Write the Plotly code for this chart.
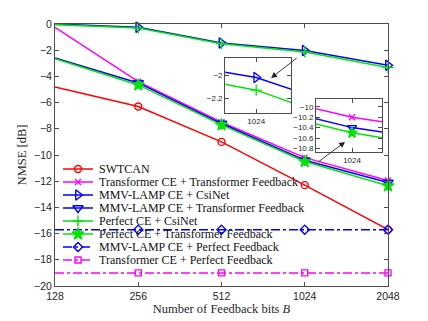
import math
import plotly.graph_objects as go

# ── Data ─────────────────────────────────────────────────────────────────────
bits = [128, 256, 512, 1024, 2048]
swtcan = [-4.8, -6.3, -9.0, -12.3, -15.7]
trans_trans = [-0.25, -4.4, -7.5, -10.2, -11.95]
lamp_csinet = [0.0, -0.25, -1.45, -2.02, -3.15]
lamp_trans = [-2.6, -4.5, -7.6, -10.4, -12.1]
perf_csinet = [-0.05, -0.3, -1.5, -2.13, -3.32]
perf_trans = [-2.65, -4.65, -7.7, -10.5, -12.35]
lamp_perf = [-15.7] * 5
trans_perf = [-19.0] * 5

y_ticks = [0, -2, -4, -6, -8, -10, -12, -14, -16, -18, -20]
inset1_ticks = [-2, -2.2]
inset2_ticks = [-10, -10.2, -10.4, -10.6, -10.8]

# ── Style ────────────────────────────────────────────────────────────────────
RED, MAG, BLUE, GREEN = "#ff0000", "#ff00ff", "#0000ff", "#00e600"
AX_CLR = "#4d4d4d"
SERIF = "Liberation Serif, Times New Roman, serif"
SANS = "Liberation Sans, Arial, sans-serif"
LW = 1.5

series = [
    ("SWTCAN", swtcan, RED, "solid", "circle-open", 7),
    ("Transformer CE + Transformer Feedback", trans_trans, MAG, "solid", "x-thin-open", 6),
    ("MMV-LAMP CE + CsiNet", lamp_csinet, BLUE, "solid", "triangle-right-open", 9),
    ("MMV-LAMP CE + Transformer Feedback", lamp_trans, BLUE, "solid", "triangle-down-open", 9),
    ("Perfect CE + CsiNet", perf_csinet, GREEN, "solid", "cross-thin-open", 8),
    ("Perfect CE + Transformer Feedback", perf_trans, GREEN, "solid", "star", 9),
    ("MMV-LAMP CE + Perfect Feedback", lamp_perf, BLUE, "dashdot", "diamond-open", 7),
    ("Transformer CE + Perfect Feedback", trans_perf, MAG, "dashdot", "square-open", 6),
]

fig = go.Figure()
for name, vals, clr, dash, sym, size in series:
    fig.add_trace(go.Scatter(
        x=bits, y=vals, name=name, mode="lines+markers", showlegend=False,
        line=dict(color=clr, width=LW, dash=dash),
        marker=dict(symbol=sym, size=size, color=clr,
                    line=dict(color=clr, width=1.4)),
        cliponaxis=False,
    ))

# hand-drawn legend on a pixel-scaled overlay axis (MATLAB-style compact rows)
LEG_X0, LEG_X1, LEG_TXT, LEG_Y0, LEG_DY = 63, 93, 97, 169, 13
for i, (name, vals, clr, dash, sym, size) in enumerate(series):
    yy = LEG_Y0 + i * LEG_DY
    fig.add_trace(go.Scatter(
        x=[LEG_X0, LEG_X1], y=[yy, yy], mode="lines", showlegend=False,
        xaxis="x4", yaxis="y4", line=dict(color=clr, width=LW, dash=dash),
        hoverinfo="skip"))
    fig.add_trace(go.Scatter(
        x=[(LEG_X0 + LEG_X1) / 2], y=[yy], mode="markers", showlegend=False,
        xaxis="x4", yaxis="y4", hoverinfo="skip",
        marker=dict(symbol=sym, size=size, color=clr,
                    line=dict(color=clr, width=1.4))))
    fig.add_annotation(x=LEG_TXT, y=yy, xref="x4", yref="y4", text=name,
                       showarrow=False, xanchor="left", yanchor="middle",
                       font=dict(family=SERIF, size=12, color="#111111"))

# inset traces
inset1 = [(lamp_csinet, BLUE, "triangle-right-open", 9),
          (perf_csinet, GREEN, "cross-thin-open", 8)]
inset2 = [(trans_trans, MAG, "x-thin-open", 6),
          (lamp_trans, BLUE, "triangle-down-open", 8),
          (perf_trans, GREEN, "star", 8)]
for ax, group in (("2", inset1), ("3", inset2)):
    for vals, clr, sym, size in group:
        fig.add_trace(go.Scatter(
            x=bits, y=vals, mode="lines+markers", showlegend=False,
            xaxis="x" + ax, yaxis="y" + ax,
            line=dict(color=clr, width=LW),
            marker=dict(symbol=sym, size=size, color=clr,
                        line=dict(color=clr, width=1.3)),
        ))

l1024 = math.log10(1024)
oct10 = math.log10(2)

axis_common = dict(showline=True, linecolor=AX_CLR, linewidth=1, mirror="ticks",
                   ticks="inside", tickcolor=AX_CLR, ticklen=4, showgrid=False,
                   zeroline=False, automargin=False)

# page body has an 8px margin, so the figure is 8px smaller and shifted
fig.update_layout(
    width=420, height=313,
    paper_bgcolor="white", plot_bgcolor="white",
    margin=dict(l=47, r=40, t=16, b=35),
    font=dict(family=SANS, size=10.5, color="#262626"),
    xaxis=dict(type="log", range=[math.log10(128), math.log10(2048)],
               tickvals=bits, ticktext=[str(b) for b in bits],
               title=dict(text="Number of Feedback bits <i>B</i>",
                          font=dict(family=SERIF, size=12.5), standoff=3),
               **axis_common),
    yaxis=dict(range=[-20, 0], tickvals=y_ticks,
               title=dict(text="NMSE [dB]", font=dict(family=SERIF, size=12.5),
                          standoff=4),
               **axis_common),
    xaxis2=dict(type="log", domain=[0.511, 0.709], anchor="y2",
                range=[l1024 - 0.08 * oct10, l1024 + 0.09 * oct10],
                tickvals=[1024], ticktext=["1024"], tickfont=dict(size=8),
                **axis_common),
    yaxis2=dict(domain=[0.66, 0.87], anchor="x2", range=[-2.33, -1.85],
                tickvals=inset1_ticks, tickfont=dict(size=8), **axis_common),
    xaxis3=dict(type="log", domain=[0.784, 0.982], anchor="y3",
                range=[l1024 - 0.06 * oct10, l1024 + 0.05 * oct10],
                tickvals=[1024], ticktext=["1024"], tickfont=dict(size=8),
                **axis_common),
    yaxis3=dict(domain=[0.511, 0.714], anchor="x3", range=[-10.87, -9.85],
                tickvals=inset2_ticks, tickfont=dict(size=8), **axis_common),
    xaxis4=dict(overlaying="x", range=[55, 388], visible=False, fixedrange=True),
    yaxis4=dict(overlaying="y", range=[286, 24], visible=False, fixedrange=True),
    showlegend=False,
)

# zoom circles around the 1024 points
for yc in (-2.05, -10.35):
    fig.add_shape(type="circle", xref="x", yref="y",
                  xsizemode="pixel", ysizemode="pixel",
                  xanchor=l1024, yanchor=yc, x0=-12, x1=12, y0=-11, y1=11,
                  line=dict(color="#333333", width=0.8))

# arrows from circles to insets
fig.add_annotation(x=0.649, y=0.794, xref="paper", yref="paper", text="",
                   showarrow=True, ax=27, ay=-21, arrowhead=2, arrowsize=1.3,
                   arrowwidth=0.9, arrowcolor="#222222")
fig.add_annotation(x=0.871, y=0.550, xref="paper", yref="paper", text="",
                   showarrow=True, ax=-28, ay=21, arrowhead=2, arrowsize=1.3,
                   arrowwidth=0.9, arrowcolor="#222222")

fig.write_html("out.html")
